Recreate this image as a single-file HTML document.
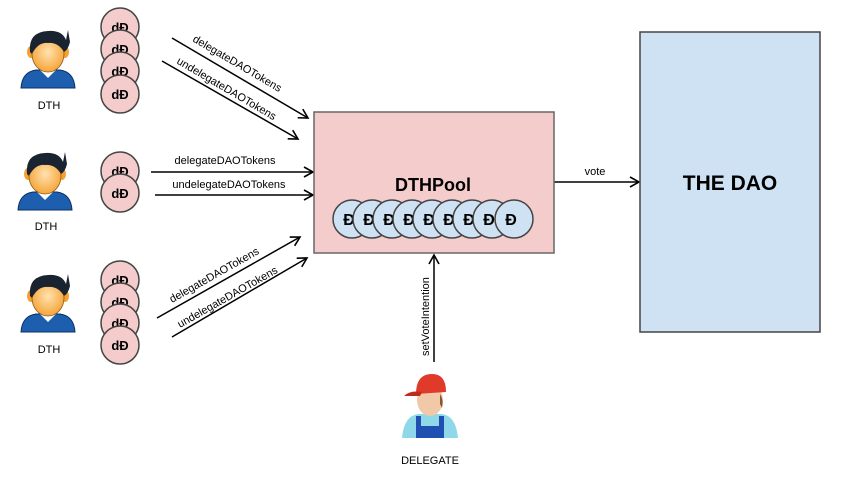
<!DOCTYPE html>
<html><head><meta charset="utf-8"><style>
html,body{margin:0;padding:0;background:#fff;}
svg{display:block;font-family:"Liberation Sans",Arial,sans-serif;}
</style></head><body>
<svg width="846" height="486" viewBox="0 0 846 486" xmlns="http://www.w3.org/2000/svg">
<defs>
<marker id="ar" markerWidth="12" markerHeight="12" refX="10" refY="6" orient="auto" markerUnits="userSpaceOnUse">
<path d="M1,1 L10,6 L1,11" fill="none" stroke="#000" stroke-width="1.6"/>
</marker>
<radialGradient id="face" cx="0.5" cy="0.45" r="0.6"><stop offset="0" stop-color="#ffe2b0"/><stop offset="1" stop-color="#f5a030"/></radialGradient>
<g id="dth">
<path d="M-27,30 Q-26,14 -12,12 L12,12 Q26,14 27,30 Z" fill="#1d5fae" stroke="#0b2f66" stroke-width="1"/>
<path d="M-8,12 L0,20 L8,12 Z" fill="#fff"/>
<ellipse cx="-17" cy="-6" rx="4" ry="6" fill="#f5a030"/>
<ellipse cx="17" cy="-6" rx="4" ry="6" fill="#f5a030"/>
<ellipse cx="0" cy="-4" rx="16" ry="18" fill="url(#face)" stroke="#8a5a10" stroke-width="0.8"/>
<path d="M-18,-6 Q-20,-26 0,-27 Q14,-28 18,-18 L20,-28 L22,-16 Q20,-8 16,-6 Q10,-16 0,-15 Q-10,-16 -16,-4 Z" fill="#1a2330"/>
</g>
<g id="dc"><circle r="19" fill="#f4cccc" stroke="#444" stroke-width="1.5"/><text y="5" text-anchor="middle" font-size="13" font-weight="bold">dĐ</text></g>
<g id="bc"><circle r="19" fill="#cfe2f3" stroke="#444" stroke-width="1.5"/><text x="-3" y="6" text-anchor="middle" font-size="16" font-weight="bold">Đ</text></g>
</defs>

<!-- persons -->
<use href="#dth" x="48" y="58"/>
<text x="49" y="109" font-size="11" text-anchor="middle">DTH</text>
<use href="#dth" x="45" y="180"/>
<text x="46" y="230" font-size="11" text-anchor="middle">DTH</text>
<use href="#dth" x="48" y="302"/>
<text x="49" y="353" font-size="11" text-anchor="middle">DTH</text>

<!-- pink coins -->
<use href="#dc" x="120" y="27"/><use href="#dc" x="120" y="49"/><use href="#dc" x="120" y="71"/><use href="#dc" x="120" y="94"/>
<use href="#dc" x="120" y="171"/><use href="#dc" x="120" y="193"/>
<use href="#dc" x="120" y="280"/><use href="#dc" x="120" y="302"/><use href="#dc" x="120" y="323"/><use href="#dc" x="120" y="345"/>

<!-- arrows group1 -->
<g stroke="#000" stroke-width="1.5" fill="none">
<line x1="172" y1="38" x2="308" y2="118" marker-end="url(#ar)"/>
<line x1="162" y1="61" x2="298" y2="139" marker-end="url(#ar)"/>
<line x1="151" y1="172" x2="313" y2="172" marker-end="url(#ar)"/>
<line x1="155" y1="195" x2="313" y2="195" marker-end="url(#ar)"/>
<line x1="157" y1="318" x2="300" y2="237" marker-end="url(#ar)"/>
<line x1="172" y1="337" x2="307" y2="258" marker-end="url(#ar)"/>
<line x1="554" y1="182" x2="639" y2="182" marker-end="url(#ar)"/>
<line x1="434" y1="362" x2="434" y2="255" marker-end="url(#ar)"/>
</g>
<g font-size="11">
<text transform="translate(192,41) rotate(30.5)">delegateDAOTokens</text>
<text transform="translate(176,63) rotate(30.5)">undelegateDAOTokens</text>
<text x="225" y="164" text-anchor="middle">delegateDAOTokens</text>
<text x="229" y="188" text-anchor="middle">undelegateDAOTokens</text>
<text transform="translate(172,303) rotate(-29.5)">delegateDAOTokens</text>
<text transform="translate(180,328) rotate(-29.5)">undelegateDAOTokens</text>
<text x="595" y="175" text-anchor="middle">vote</text>
<text transform="translate(429,356) rotate(-90)">setVoteIntention</text>
</g>

<!-- DTHPool -->
<rect x="314" y="112" width="240" height="141" fill="#f4cccc" stroke="#666" stroke-width="1.5"/>
<text x="433" y="191" font-size="18" font-weight="bold" text-anchor="middle">DTHPool</text>
<use href="#bc" x="352" y="219"/><use href="#bc" x="372" y="219"/><use href="#bc" x="392" y="219"/><use href="#bc" x="412" y="219"/><use href="#bc" x="432" y="219"/><use href="#bc" x="452" y="219"/><use href="#bc" x="472" y="219"/><use href="#bc" x="492" y="219"/><use href="#bc" x="514" y="219"/>

<!-- THE DAO -->
<rect x="640" y="32" width="180" height="300" fill="#cfe2f3" stroke="#444" stroke-width="1.5"/>
<text x="730" y="190" font-size="21" font-weight="bold" text-anchor="middle">THE DAO</text>

<!-- delegate -->
<g transform="translate(430,400)">
<path d="M-28,38 Q-26,16 -12,14 L12,14 Q26,16 28,38 Z" fill="#8fd8ea"/>
<path d="M-14,38 L-14,16 L-9,16 L-9,26 L9,26 L9,16 L14,16 L14,38 Z" fill="#1f4fb0"/>
<ellipse cx="0" cy="0" rx="13" ry="16" fill="#f2c9a8"/>
<path d="M10,-6 Q14,0 12,8 L10,4 Z" fill="#8a5530"/>
<path d="M-14,-6 Q-14,-26 2,-26 Q16,-26 16,-8 Z" fill="#e03a2a"/>
<path d="M-26,-4 Q-20,-10 -8,-8 L-10,-4 Z" fill="#c02a1a"/>
</g>
<text x="430" y="464" font-size="11" text-anchor="middle">DELEGATE</text>
</svg>
</body></html>
